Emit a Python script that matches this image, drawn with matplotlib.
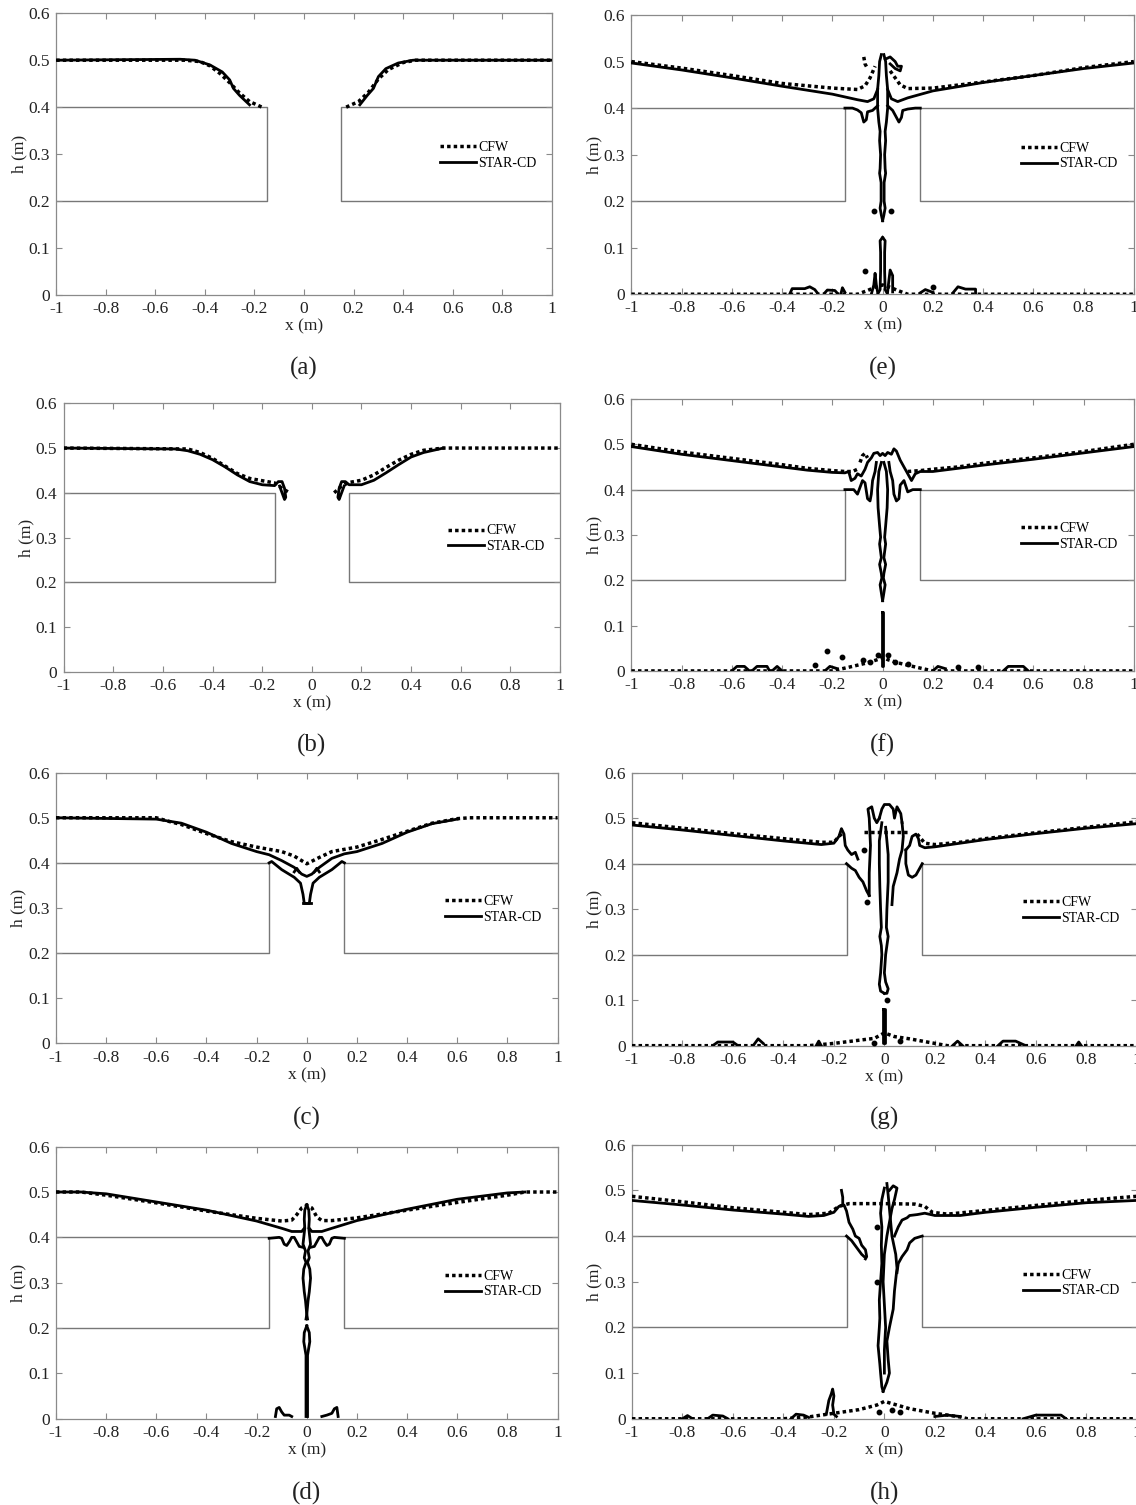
import matplotlib
matplotlib.use("Agg")
import matplotlib.pyplot as plt
from matplotlib.ticker import FuncFormatter, MultipleLocator

plt.rcParams['font.family'] = ['Liberation Serif', 'DejaVu Serif']
plt.rcParams['axes.unicode_minus'] = False

# ================= GEOMETRIA (escalon) =================
left_block_x = [-1, -0.15, -0.15, -1]
left_block_y = [0.4, 0.4, 0.2, 0.2]
right_block_x = [1, 0.15, 0.15, 1]
right_block_y = [0.4, 0.4, 0.2, 0.2]

panel_labels = ['(a)', '(b)', '(c)', '(d)', '(e)', '(f)', '(g)', '(h)']

# ================= DATOS =================
# (a)
a_cfw = [
    [(-1, 0.5), (-0.48, 0.5), (-0.42, 0.497), (-0.38, 0.488), (-0.34, 0.472), (-0.3, 0.452),
     (-0.26, 0.43), (-0.22, 0.412), (-0.17, 0.4)],
    [(0.17, 0.4), (0.22, 0.412), (0.26, 0.432), (0.3, 0.46), (0.34, 0.48), (0.4, 0.495),
     (0.45, 0.5), (1, 0.5)],
]
a_star = [
    [(-1, 0.5), (-0.5, 0.502), (-0.44, 0.5), (-0.38, 0.49), (-0.33, 0.475), (-0.3, 0.458),
     (-0.285, 0.44), (-0.26, 0.425), (-0.22, 0.405)],
    [(0.225, 0.405), (0.255, 0.425), (0.28, 0.44), (0.3, 0.465), (0.33, 0.482), (0.38, 0.494),
     (0.44, 0.5), (1, 0.5)],
]

# (b)
b_cfw = [
    [(-1, 0.5), (-0.5, 0.498), (-0.45, 0.49), (-0.4, 0.477), (-0.35, 0.46), (-0.3, 0.443),
     (-0.25, 0.432), (-0.2, 0.427), (-0.15, 0.422), (-0.12, 0.41), (-0.09, 0.4)],
    [(0.09, 0.4), (0.12, 0.415), (0.15, 0.423), (0.2, 0.428), (0.25, 0.44), (0.3, 0.457),
     (0.35, 0.473), (0.4, 0.486), (0.45, 0.495), (0.53, 0.5), (1, 0.5)],
]
b_star = [
    [(-1, 0.5), (-0.55, 0.498), (-0.5, 0.494), (-0.45, 0.486), (-0.4, 0.474), (-0.35, 0.458),
     (-0.3, 0.44), (-0.25, 0.425), (-0.2, 0.418), (-0.15, 0.416), (-0.135, 0.425), (-0.12, 0.425),
     (-0.11, 0.41), (-0.105, 0.39), (-0.11, 0.385), (-0.12, 0.4), (-0.13, 0.415)],
    [(0.13, 0.415), (0.12, 0.4), (0.11, 0.385), (0.105, 0.39), (0.11, 0.41), (0.12, 0.425),
     (0.135, 0.425), (0.15, 0.418), (0.2, 0.418), (0.25, 0.428), (0.3, 0.445), (0.35, 0.463),
     (0.4, 0.48), (0.45, 0.49), (0.53, 0.5)],
]

# (c)
c_cfw = [
    [(-1, 0.5), (-0.6, 0.5), (-0.55, 0.492), (-0.5, 0.485), (-0.4, 0.465), (-0.3, 0.447),
     (-0.2, 0.435), (-0.1, 0.425), (-0.05, 0.415), (0, 0.398), (0.05, 0.412), (0.1, 0.425),
     (0.2, 0.435), (0.3, 0.452), (0.4, 0.47), (0.5, 0.488), (0.6, 0.498), (0.65, 0.5), (1, 0.5)],
]
c_star = [
    [(-1, 0.5), (-0.6, 0.497), (-0.5, 0.488), (-0.4, 0.468), (-0.3, 0.443), (-0.2, 0.425),
     (-0.15, 0.418), (-0.1, 0.405), (-0.05, 0.39), (-0.02, 0.375), (0, 0.37), (0.02, 0.375),
     (0.05, 0.39), (0.1, 0.41), (0.15, 0.42), (0.2, 0.425), (0.3, 0.443), (0.4, 0.468),
     (0.5, 0.487), (0.6, 0.497)],
    [(-0.15, 0.4), (-0.14, 0.403), (-0.1, 0.385), (-0.05, 0.368), (-0.025, 0.355), (-0.015, 0.33),
     (-0.01, 0.31), (0.01, 0.31), (0.015, 0.33), (0.025, 0.355), (0.05, 0.368), (0.1, 0.385),
     (0.14, 0.403), (0.15, 0.4)],
    [(-0.05, 0.38), (-0.04, 0.388), (-0.03, 0.38)],
    [(0.03, 0.38), (0.04, 0.388), (0.05, 0.38)],
    [(-0.015, 0.312), (0.015, 0.312)],
]

# (d)
d_cfw = [
    [(-1, 0.5), (-0.9, 0.5), (-0.8, 0.493), (-0.6, 0.476), (-0.4, 0.458), (-0.2, 0.442),
     (-0.1, 0.436), (-0.06, 0.438), (-0.04, 0.45), (-0.02, 0.465), (0, 0.47), (0.02, 0.465),
     (0.04, 0.445), (0.06, 0.437), (0.1, 0.437), (0.2, 0.443), (0.4, 0.46), (0.6, 0.477),
     (0.8, 0.493), (0.87, 0.5), (1, 0.5)],
]
d_star = [
    [(-1, 0.5), (-0.9, 0.5), (-0.8, 0.496), (-0.6, 0.478), (-0.4, 0.46), (-0.2, 0.436),
     (-0.1, 0.42), (-0.06, 0.413), (-0.02, 0.413), (-0.01, 0.42)],
    [(0.01, 0.42), (0.02, 0.413), (0.06, 0.413), (0.1, 0.42), (0.2, 0.437), (0.4, 0.462),
     (0.6, 0.484), (0.8, 0.498), (0.87, 0.5)],
    [(-0.15, 0.398), (-0.11, 0.4), (-0.1, 0.398), (-0.09, 0.385), (-0.08, 0.382), (-0.07, 0.39),
     (-0.06, 0.4), (-0.05, 0.4), (-0.04, 0.39), (-0.03, 0.38), (-0.015, 0.378)],
    [(0.015, 0.378), (0.03, 0.38), (0.04, 0.39), (0.05, 0.4), (0.06, 0.4), (0.07, 0.39),
     (0.08, 0.382), (0.09, 0.385), (0.1, 0.398), (0.11, 0.4), (0.15, 0.398)],
    [(0, 0.472), (-0.008, 0.46), (-0.01, 0.44), (-0.008, 0.42), (-0.012, 0.4), (-0.015, 0.385),
     (-0.005, 0.37), (-0.01, 0.355), (-0.003, 0.345), (-0.012, 0.33), (-0.015, 0.31),
     (-0.01, 0.28), (-0.005, 0.26), (0, 0.23), (-0.003, 0.22)],
    [(0, 0.472), (0.008, 0.46), (0.01, 0.44), (0.008, 0.42), (0.012, 0.4), (0.015, 0.385),
     (0.005, 0.37), (0.01, 0.355), (0.003, 0.345), (0.012, 0.33), (0.015, 0.31),
     (0.01, 0.28), (0.005, 0.26), (0, 0.23), (0.003, 0.22)],
    [(0, 0.205), (-0.01, 0.19), (-0.012, 0.17), (-0.003, 0.14), (-0.003, 0.1), (-0.003, 0.005)],
    [(0, 0.205), (0.01, 0.19), (0.012, 0.17), (0.003, 0.14), (0.003, 0.1), (0.003, 0.005)],
    [(-0.125, 0.005), (-0.12, 0.022), (-0.11, 0.025), (-0.1, 0.015), (-0.09, 0.008),
     (-0.07, 0.008), (-0.06, 0.005)],
    [(0.06, 0.005), (0.08, 0.008), (0.1, 0.012), (0.11, 0.022), (0.12, 0.025), (0.125, 0.005)],
]

# (e)
e_cfw = [
    [(-1, 0.5), (-0.8, 0.486), (-0.6, 0.47), (-0.4, 0.453), (-0.2, 0.443), (-0.1, 0.44),
     (-0.07, 0.448), (-0.05, 0.465), (-0.03, 0.49)],
    [(0.03, 0.48), (0.05, 0.465), (0.07, 0.45), (0.1, 0.442), (0.2, 0.443), (0.4, 0.456),
     (0.6, 0.47), (0.8, 0.487), (1, 0.5)],
    [(-0.075, 0.51), (-0.07, 0.495), (-0.06, 0.485)],
    [(-1, 0), (-0.1, 0), (-0.06, 0.008), (-0.03, 0.015), (0, 0.02), (0.03, 0.015), (0.06, 0.008),
     (0.1, 0), (1, 0)],
]
e_star = [
    [(-1, 0.497), (-0.8, 0.482), (-0.6, 0.465), (-0.4, 0.447), (-0.2, 0.43), (-0.1, 0.418),
     (-0.06, 0.414), (-0.035, 0.42), (-0.02, 0.44)],
    [(0.02, 0.44), (0.035, 0.42), (0.06, 0.414), (0.1, 0.422), (0.2, 0.437), (0.4, 0.455),
     (0.6, 0.47), (0.8, 0.485), (1, 0.497)],
    [(-0.15, 0.4), (-0.12, 0.4), (-0.1, 0.396), (-0.085, 0.39), (-0.075, 0.37), (-0.065, 0.375),
     (-0.06, 0.392), (-0.04, 0.395), (-0.02, 0.405)],
    [(0.02, 0.405), (0.04, 0.395), (0.055, 0.38), (0.065, 0.37), (0.075, 0.38), (0.08, 0.395),
     (0.1, 0.398), (0.13, 0.4), (0.15, 0.4)],
    [(-0.005, 0.515), (-0.012, 0.5), (-0.015, 0.47), (-0.02, 0.44), (-0.02, 0.4), (-0.015, 0.37),
     (-0.01, 0.35), (-0.012, 0.33), (-0.008, 0.3), (-0.01, 0.27), (-0.012, 0.26), (-0.006, 0.24),
     (-0.006, 0.2), (-0.01, 0.185), (-0.005, 0.17), (0, 0.158)],
    [(0.005, 0.515), (0.012, 0.5), (0.015, 0.47), (0.02, 0.44), (0.02, 0.4), (0.015, 0.37),
     (0.01, 0.35), (0.012, 0.33), (0.008, 0.3), (0.01, 0.27), (0.012, 0.26), (0.006, 0.24),
     (0.006, 0.2), (0.01, 0.185), (0.005, 0.17), (0, 0.158)],
    [(0.01, 0.505), (0.03, 0.51), (0.05, 0.5), (0.06, 0.49), (0.075, 0.49), (0.07, 0.48),
     (0.05, 0.485), (0.03, 0.495)],
    [(0, 0.122), (-0.01, 0.115), (-0.008, 0.09), (-0.008, 0.05), (-0.01, 0.01), (-0.02, 0.0)],
    [(0, 0.122), (0.01, 0.115), (0.008, 0.09), (0.008, 0.05), (0.01, 0.01), (0.02, 0.0)],
    [(-0.045, 0.0), (-0.035, 0.02), (-0.03, 0.045), (-0.025, 0.02), (-0.02, 0.005)],
    [(0.02, 0.005), (0.025, 0.03), (0.03, 0.052), (0.04, 0.04), (0.04, 0.005)],
    [(-0.37, 0.0), (-0.36, 0.012), (-0.31, 0.012), (-0.29, 0.016), (-0.27, 0.01), (-0.26, 0.003)],
    [(-0.23, 0.003), (-0.22, 0.009), (-0.19, 0.008), (-0.18, 0.002)],
    [(-0.165, 0.003), (-0.16, 0.014), (-0.15, 0.004)],
    [(0.15, 0.003), (0.17, 0.01), (0.2, 0.004)],
    [(0.28, 0.003), (0.3, 0.016), (0.33, 0.011), (0.37, 0.011), (0.37, 0.0)],
]
e_drops = [(-0.07, 0.05), (-0.035, 0.178), (0.035, 0.178), (0.2, 0.015)]

# (f)
f_cfw = [
    [(-1, 0.5), (-0.8, 0.483), (-0.6, 0.469), (-0.4, 0.455), (-0.3, 0.447), (-0.2, 0.442),
     (-0.15, 0.44), (-0.12, 0.44), (-0.1, 0.445)],
    [(0.1, 0.44), (0.15, 0.442), (0.2, 0.445), (0.3, 0.45), (0.4, 0.458), (0.6, 0.47),
     (0.8, 0.484), (1, 0.5)],
    [(-0.09, 0.46), (-0.08, 0.475), (-0.07, 0.48), (-0.06, 0.47)],
    [(-1, 0), (-0.2, 0), (-0.12, 0.01), (-0.06, 0.018), (-0.02, 0.025), (0, 0.03), (0.02, 0.025),
     (0.06, 0.018), (0.12, 0.01), (0.2, 0), (1, 0)],
]
f_star = [
    [(-1, 0.495), (-0.8, 0.478), (-0.6, 0.464), (-0.4, 0.45), (-0.3, 0.443), (-0.2, 0.438),
     (-0.15, 0.437), (-0.135, 0.44), (-0.125, 0.42), (-0.11, 0.425), (-0.1, 0.435), (-0.085, 0.43),
     (-0.07, 0.445), (-0.06, 0.46), (-0.045, 0.47), (-0.035, 0.48), (-0.02, 0.482), (-0.01, 0.475),
     (0, 0.48), (0.01, 0.475), (0.02, 0.482), (0.035, 0.478), (0.045, 0.49), (0.055, 0.485),
     (0.07, 0.465), (0.085, 0.45), (0.1, 0.435), (0.115, 0.42), (0.13, 0.435), (0.15, 0.44),
     (0.2, 0.44), (0.3, 0.447), (0.4, 0.454), (0.6, 0.467), (0.8, 0.481), (1, 0.495)],
    [(-0.15, 0.4), (-0.115, 0.4), (-0.1, 0.39), (-0.09, 0.405), (-0.08, 0.42), (-0.07, 0.415),
     (-0.06, 0.38), (-0.05, 0.375), (-0.045, 0.39), (-0.04, 0.42), (-0.03, 0.44), (-0.025, 0.46)],
    [(0.025, 0.46), (0.03, 0.44), (0.04, 0.42), (0.045, 0.39), (0.055, 0.375), (0.065, 0.38),
     (0.07, 0.41), (0.085, 0.42), (0.1, 0.395), (0.12, 0.4), (0.15, 0.4)],
    [(-0.005, 0.46), (-0.015, 0.44), (-0.02, 0.4), (-0.018, 0.36), (-0.012, 0.32), (-0.008, 0.295),
     (-0.012, 0.28), (-0.005, 0.25), (-0.012, 0.235), (-0.005, 0.215), (-0.003, 0.205),
     (-0.01, 0.19), (-0.003, 0.165), (0, 0.155)],
    [(0.005, 0.46), (0.015, 0.44), (0.02, 0.4), (0.018, 0.36), (0.012, 0.32), (0.008, 0.295),
     (0.012, 0.28), (0.005, 0.25), (0.012, 0.235), (0.005, 0.215), (0.003, 0.205),
     (0.01, 0.19), (0.003, 0.165), (0, 0.155)],
    [(-0.003, 0.13), (-0.003, 0.01), (0.003, 0.01), (0.003, 0.13), (-0.003, 0.13)],
    [(-0.6, 0.0), (-0.58, 0.01), (-0.55, 0.01), (-0.53, 0.0)],
    [(-0.52, 0.0), (-0.5, 0.01), (-0.46, 0.01), (-0.45, 0.0)],
    [(-0.44, 0.0), (-0.42, 0.01), (-0.4, 0.0)],
    [(-0.23, 0.0), (-0.21, 0.01), (-0.18, 0.005)],
    [(0.2, 0.0), (0.22, 0.01), (0.25, 0.005)],
    [(0.48, 0.0), (0.5, 0.01), (0.56, 0.01), (0.58, 0.0)],
]
f_drops = [(-0.22, 0.045), (-0.16, 0.03), (-0.27, 0.012), (-0.08, 0.025), (-0.05, 0.02),
           (0.05, 0.02), (0.1, 0.015), (-0.02, 0.035), (0.02, 0.035), (0.3, 0.008), (0.38, 0.008)]

# (g)
g_cfw = [
    [(-1, 0.49), (-0.8, 0.478), (-0.6, 0.466), (-0.4, 0.455), (-0.25, 0.447), (-0.2, 0.447),
     (-0.18, 0.46), (-0.16, 0.47)],
    [(-0.08, 0.47), (0.1, 0.47)],
    [(0.13, 0.465), (0.16, 0.445), (0.2, 0.442), (0.3, 0.447), (0.4, 0.455), (0.6, 0.468),
     (0.8, 0.48), (1, 0.492)],
    [(-1, 0), (-0.3, 0), (-0.2, 0.005), (-0.1, 0.012), (-0.04, 0.016), (0, 0.028), (0.04, 0.02),
     (0.1, 0.015), (0.2, 0.005), (0.25, 0), (1, 0)],
]
g_star = [
    [(-1, 0.485), (-0.8, 0.474), (-0.6, 0.462), (-0.4, 0.45), (-0.25, 0.442), (-0.2, 0.445),
     (-0.18, 0.46), (-0.17, 0.477), (-0.16, 0.465), (-0.155, 0.44), (-0.145, 0.43), (-0.13, 0.42),
     (-0.115, 0.425), (-0.105, 0.41)],
    [(0.085, 0.43), (0.1, 0.44), (0.11, 0.46), (0.125, 0.465), (0.135, 0.455), (0.14, 0.44),
     (0.16, 0.435), (0.2, 0.437), (0.3, 0.445), (0.4, 0.453), (0.6, 0.466), (0.8, 0.478),
     (1, 0.488)],
    [(-0.15, 0.4), (-0.13, 0.39), (-0.115, 0.385), (-0.1, 0.37), (-0.085, 0.36), (-0.07, 0.34),
     (-0.06, 0.33)],
    [(-0.06, 0.33), (-0.06, 0.38), (-0.055, 0.44), (-0.06, 0.5), (-0.065, 0.52), (-0.05, 0.525),
     (-0.04, 0.5), (-0.03, 0.49), (-0.02, 0.5)],
    [(-0.02, 0.5), (-0.01, 0.52), (0.0, 0.53), (0.02, 0.53), (0.035, 0.52), (0.04, 0.5),
     (0.05, 0.525), (0.065, 0.51), (0.07, 0.49)],
    [(0.07, 0.49), (0.075, 0.46), (0.07, 0.43), (0.06, 0.41), (0.05, 0.38), (0.035, 0.35),
     (0.03, 0.31)],
    [(0.15, 0.4), (0.14, 0.39), (0.125, 0.375), (0.11, 0.37), (0.095, 0.375), (0.085, 0.4),
     (0.085, 0.43)],
    [(-0.01, 0.49), (-0.02, 0.45), (-0.02, 0.4), (-0.018, 0.35), (-0.015, 0.3), (-0.012, 0.26),
     (-0.018, 0.24), (-0.012, 0.22), (-0.01, 0.2), (-0.015, 0.16), (-0.02, 0.135), (-0.015, 0.12),
     (0, 0.115)],
    [(0.005, 0.48), (0.015, 0.42), (0.015, 0.36), (0.01, 0.3), (0.008, 0.26), (0.015, 0.24),
     (0.01, 0.22), (0.005, 0.2), (0.0, 0.16), (0.005, 0.14), (0.015, 0.125), (0.01, 0.115),
     (0, 0.115)],
    [(-0.004, 0.08), (-0.004, 0.005), (0.004, 0.005), (0.004, 0.08), (-0.004, 0.08)],
    [(-0.68, 0.0), (-0.66, 0.008), (-0.6, 0.008), (-0.58, 0.0)],
    [(-0.52, 0.0), (-0.5, 0.015), (-0.48, 0.005)],
    [(-0.27, 0.0), (-0.26, 0.01), (-0.25, 0.0)],
    [(0.27, 0.0), (0.29, 0.01), (0.31, 0.0)],
    [(0.45, 0.0), (0.47, 0.01), (0.52, 0.01), (0.56, 0.0)],
    [(0.76, 0.0), (0.77, 0.008), (0.78, 0.0)],
]
g_drops = [(-0.07, 0.315), (0.01, 0.1), (-0.08, 0.43), (-0.04, 0.005), (0.06, 0.01)]

# (h)
h_cfw = [
    [(-1, 0.487), (-0.8, 0.475), (-0.6, 0.462), (-0.4, 0.452), (-0.3, 0.447), (-0.22, 0.45),
     (-0.18, 0.465), (-0.14, 0.471), (0.0, 0.471), (0.12, 0.47), (0.16, 0.465), (0.19, 0.452),
     (0.25, 0.448), (0.4, 0.456), (0.6, 0.467), (0.8, 0.478), (1, 0.487)],
    [(-1, 0), (-0.4, 0), (-0.3, 0.004), (-0.2, 0.012), (-0.1, 0.02), (-0.03, 0.03), (0, 0.038),
     (0.05, 0.03), (0.1, 0.022), (0.2, 0.012), (0.3, 0.004), (0.33, 0), (1, 0)],
]
h_star = [
    [(-1, 0.478), (-0.8, 0.468), (-0.6, 0.457), (-0.4, 0.448), (-0.3, 0.443), (-0.24, 0.445),
     (-0.2, 0.452), (-0.18, 0.465), (-0.16, 0.468), (-0.15, 0.455), (-0.14, 0.43), (-0.125, 0.415),
     (-0.115, 0.4), (-0.1, 0.395), (-0.09, 0.38), (-0.075, 0.37), (-0.07, 0.355), (-0.075, 0.35)],
    [(0.04, 0.4), (0.055, 0.42), (0.07, 0.435), (0.09, 0.44), (0.1, 0.445), (0.13, 0.447),
     (0.16, 0.45), (0.2, 0.445), (0.3, 0.445), (0.4, 0.452), (0.6, 0.463), (0.8, 0.473),
     (1, 0.478)],
    [(-0.17, 0.5), (-0.165, 0.485), (-0.165, 0.47)],
    [(-0.15, 0.4), (-0.13, 0.39), (-0.11, 0.375), (-0.09, 0.36), (-0.08, 0.355)],
    [(0.15, 0.4), (0.12, 0.395), (0.1, 0.385), (0.09, 0.37), (0.07, 0.355), (0.055, 0.34),
     (0.05, 0.32)],
    [(0.0, 0.505), (-0.01, 0.48), (-0.015, 0.45), (-0.01, 0.42), (-0.012, 0.38), (-0.01, 0.34),
     (-0.015, 0.3), (-0.02, 0.26), (-0.018, 0.22), (-0.02, 0.2), (-0.025, 0.16), (-0.018, 0.12),
     (-0.015, 0.1), (-0.01, 0.07), (-0.005, 0.06)],
    [(0.01, 0.515), (0.015, 0.49), (0.02, 0.46), (0.025, 0.43), (0.03, 0.4), (0.045, 0.36),
     (0.05, 0.33), (0.04, 0.28), (0.035, 0.24), (0.02, 0.2), (0.01, 0.17), (0.015, 0.13),
     (0.02, 0.1), (0.01, 0.08), (-0.005, 0.06)],
    [(0.02, 0.5), (0.035, 0.51), (0.05, 0.505), (0.04, 0.48), (0.03, 0.46), (0.02, 0.43),
     (0.01, 0.4), (0.0, 0.36), (-0.005, 0.3), (0.0, 0.25), (0.005, 0.2), (0.0, 0.15), (0.0, 0.1)],
    [(-0.23, 0.01), (-0.22, 0.04), (-0.21, 0.055), (-0.205, 0.065), (-0.2, 0.05), (-0.205, 0.03),
     (-0.2, 0.01), (-0.19, 0.005)],
    [(-0.8, 0.0), (-0.78, 0.007), (-0.76, 0.0)],
    [(-0.7, 0.0), (-0.68, 0.008), (-0.64, 0.006), (-0.62, 0.0)],
    [(-0.37, 0.0), (-0.35, 0.01), (-0.32, 0.008), (-0.3, 0.003)],
    [(0.2, 0.005), (0.25, 0.008), (0.3, 0.005)],
    [(0.55, 0.0), (0.6, 0.008), (0.7, 0.008), (0.72, 0.0)],
]
h_drops = [(-0.03, 0.42), (-0.03, 0.3), (0.03, 0.02), (0.06, 0.015), (-0.02, 0.015)]

# ================= POSICIONES DE LOS EJES =================
positions = [
    [0.0495, 0.8040, 0.4363, 0.1872],
    [0.0560, 0.5537, 0.4370, 0.1783],
    [0.0493, 0.3068, 0.4415, 0.1798],
    [0.0493, 0.0573, 0.4415, 0.1808],
    [0.5558, 0.8045, 0.4423, 0.1855],
    [0.5558, 0.5542, 0.4423, 0.1807],
    [0.5563, 0.3052, 0.4444, 0.1814],
    [0.5563, 0.0573, 0.4444, 0.1821],
]
label_y = [0.7555, 0.505, 0.2571, 0.008, 0.7555, 0.505, 0.2571, 0.008]

panels = [
    (a_cfw, a_star, []), (b_cfw, b_star, []), (c_cfw, c_star, []), (d_cfw, d_star, []),
    (e_cfw, e_star, e_drops), (f_cfw, f_star, f_drops), (g_cfw, g_star, g_drops),
    (h_cfw, h_star, h_drops),
]

AX_GRAY = '#8a8a8a'
TXT = '#222222'
CFW_STYLE = dict(color='black', lw=2.5, linestyle=(0, (1.0, 0.9)), dash_capstyle='butt')
STAR_STYLE = dict(color='black', lw=2.0, linestyle='-', solid_joinstyle='round')


def etiqueta(v, pos):
    if abs(v) < 1e-9:
        return "0"
    return f"{round(v, 6):g}"


def dibujar_panel(ax, cfw, star, drops):
    ax.plot(left_block_x, left_block_y, color='#777777', lw=1.0, zorder=1)
    ax.plot(right_block_x, right_block_y, color='#777777', lw=1.0, zorder=1)
    for i, piece in enumerate(cfw):
        xs = [p[0] for p in piece]
        ys = [p[1] for p in piece]
        ax.plot(xs, ys, label="CFW" if i == 0 else None, zorder=3, **CFW_STYLE)
    for i, piece in enumerate(star):
        xs = [p[0] for p in piece]
        ys = [p[1] for p in piece]
        ax.plot(xs, ys, label="STAR-CD" if i == 0 else None, zorder=4, **STAR_STYLE)
    if drops:
        ax.plot([p[0] for p in drops], [p[1] for p in drops], 'o', color='black',
                markersize=3.2, zorder=4)

    ax.set_xlim(-1, 1)
    ax.set_ylim(0, 0.6)
    ax.xaxis.set_major_locator(MultipleLocator(0.2))
    ax.yaxis.set_major_locator(MultipleLocator(0.1))
    ax.xaxis.set_major_formatter(FuncFormatter(etiqueta))
    ax.yaxis.set_major_formatter(FuncFormatter(etiqueta))
    ax.tick_params(direction='in', top=True, right=True, length=4, width=0.8,
                   color=AX_GRAY, labelsize=12.5, labelcolor=TXT, pad=4.5)
    for s in ax.spines.values():
        s.set_color(AX_GRAY)
        s.set_linewidth(0.9)
    ax.set_xlabel("x (m)", fontsize=12.5, color=TXT, labelpad=1)
    ax.set_ylabel("h (m)", fontsize=12.5, color=TXT, labelpad=1)
    ax.legend(loc='center left', bbox_to_anchor=(0.775, 0.495), frameon=False,
              fontsize=10, handlelength=2.6, handletextpad=0.15, labelspacing=0.2,
              borderpad=0, borderaxespad=0)


fig = plt.figure(figsize=(11.36, 15.05), dpi=100)
for pos, (cfw, star, drops), lab, ly in zip(positions, panels, panel_labels, label_y):
    ax = fig.add_axes(pos)
    dibujar_panel(ax, cfw, star, drops)
    fig.text(pos[0] + pos[2] / 2, ly, lab, ha='center', va='center', fontsize=18,
             color=TXT)

fig.savefig("out.png", dpi=100)
plt.close(fig)
